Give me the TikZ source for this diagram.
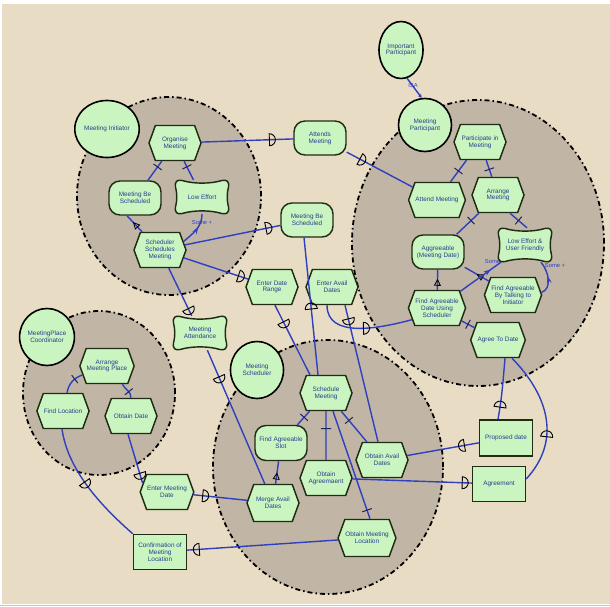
\documentclass[tikz,border=0pt]{standalone}
\usepackage{fontspec}
\setmainfont{Liberation Sans}
\usetikzlibrary{shapes.geometric,shapes.symbols,arrows.meta,decorations.markings}

\definecolor{bgbeige}{HTML}{E8DCC4}
\definecolor{bndgrey}{HTML}{C1B5A5}
\definecolor{nodegreen}{HTML}{CAF5C0}
\definecolor{edgec}{HTML}{1F2B12}
\definecolor{txtblue}{HTML}{23408E}
\definecolor{linkblue}{HTML}{2F3FC0}
\definecolor{tickc}{HTML}{1B2560}

\newcommand\diafont{\fontsize{6.4}{6.9}\selectfont}
\newcommand\lblfont{\fontsize{5.8}{6}\selectfont}

% softgoal: pillow outline, then a text node of the same size on top
\newcommand\softgoal[3]{%
  \draw[elem, shift={(#2)}]
    (-20,-16.5) .. controls (-8,-13) and (8,-13) .. (20,-16.5)
    .. controls (25,-17.8) and (27.5,-15) .. (26.5,-10)
    .. controls (24.8,-4) and (24.8,4) .. (26.5,10)
    .. controls (27.5,15) and (25,17.8) .. (20,16.5)
    .. controls (8,13) and (-8,13) .. (-20,16.5)
    .. controls (-25,17.8) and (-27.5,15) .. (-26.5,10)
    .. controls (-24.8,4) and (-24.8,-4) .. (-26.5,-10)
    .. controls (-27.5,-15) and (-25,-17.8) .. (-20,-16.5) -- cycle;
  \node[sgtext] (#1) at (#2) {#3};}

\tikzset{
  every node/.style={font=\diafont, text=txtblue, align=center, inner sep=0.5pt},
  elem/.style={draw=edgec, line width=1.45pt, fill=nodegreen},
  task/.style={elem, signal, signal to=east and west, signal pointer angle=140,
    minimum width=52pt, minimum height=35pt},
  goal/.style={elem, rectangle, rounded corners=11pt, minimum width=52pt, minimum height=34pt},
  resource/.style={elem, rectangle, minimum width=53pt, minimum height=35pt},
  actor/.style={ellipse, draw=black, line width=1.6pt, fill=nodegreen,
    minimum width=53pt, minimum height=57pt, inner sep=0pt},
  sgtext/.style={rectangle, minimum width=53pt, minimum height=34pt},
  lbl/.style={font=\lblfont, text=linkblue, inner sep=0pt},
  boundary/.style={draw=black, fill=bndgrey, line width=1.8pt,
    dash pattern=on 5pt off 3pt on 1.5pt off 3pt},
  link/.style={draw=linkblue, line width=1.4pt},
  dep/.style={postaction={decorate, decoration={markings, mark=at position #1 with
    {\draw[black, line width=0.9pt, fill=none] (0pt,-6pt) arc[start angle=-90, end angle=90, radius=6pt] -- cycle;}}}},
  depr/.style={postaction={decorate, decoration={markings, mark=at position #1 with
    {\draw[black, line width=0.9pt, fill=none] (0pt,-6pt) arc[start angle=-90, end angle=-270, radius=6pt] -- cycle;}}}},
  dec/.style={postaction={decorate, decoration={markings, mark=at position #1 with
    {\draw[tickc, line width=1pt] (0pt,-5pt) -- (0pt,5pt);}}}},
  meansend/.style={postaction={decorate, decoration={markings, mark=at position #1 with
    {\arrow{Triangle[open, length=7pt, width=7pt, color=black, line width=0.8pt]}}}}},
  contrib/.style={postaction={decorate, decoration={markings, mark=at position #1 with
    {\arrow{Stealth[length=7pt, width=5pt, color=linkblue]}}}}},
}

\begin{document}
\begin{tikzpicture}[x=1pt, y=-1pt]
\useasboundingbox (0,0) rectangle (610,607);
\fill[white] (0,0) rectangle (610,607);
\fill[bgbeige] (2,4) rectangle (610,604);
\draw[gray!45, line width=1pt] (0,605.5) -- (610,605.5);

% actor boundaries
\draw[boundary] (169,196) ellipse [x radius=92pt, y radius=99pt];
\draw[boundary] (478,243) ellipse [x radius=126pt, y radius=143pt];
\draw[boundary] (99,393) ellipse [x radius=76pt, y radius=82pt];
\draw[boundary] (328,467) ellipse [x radius=115pt, y radius=127pt];

% actors
\node[actor] (mi) at (107,129) {Meeting Initiator};
\node[actor, minimum width=44pt] (ip) at (401,50) {Important\\Participant};
\node[actor, minimum height=53pt] (mp) at (425,125) {Meeting\\Participant};
\node[actor] (mpc) at (47,337) {MeetingPlace\\Coordinator};
\node[actor] (ms) at (257,370) {Meeting\\Scheduler};

% Meeting Initiator
\node[task] (om) at (175,143) {Organise\\Meeting};
\node[goal] (mbs1) at (135,198) {Meeting Be\\Scheduled};
\softgoal{le}{202,197}{Low Effort}
\node[task] (ssm) at (160,250) {Scheduler\\Schedules\\Meeting};

% dependums between actors
\node[goal] (atm) at (320,138) {Attends\\Meeting};
\node[goal] (mbs2) at (307,220) {Meeting Be\\Scheduled};
\node[task] (edr) at (272,287) {Enter Date\\Range};
\node[task] (ead) at (332,287) {Enter Avail\\Dates};
\softgoal{mat}{200,333}{Meeting\\Attendance}
\node[task] (emd) at (167,492) {Enter Meeting\\Date};
\node[resource] (cml) at (160,552) {Confirmation of\\Meeting\\Location};
\node[resource, minimum height=36pt] (pd) at (506,438) {Proposed date};
\node[resource] (agr) at (499,484) {Agreement};

% Meeting Participant
\node[task] (pim) at (480,142) {Participate in\\Meeting};
\node[task] (am) at (437,200) {Attend Meeting};
\node[task] (arm) at (498,195) {Arrange\\Meeting};
\node[goal] (agm) at (438,252) {Aggreeable\\(Meeting Date)};
\node[lbl] (sp2) at (495,262) {Some +};
\softgoal{leuf}{525,245}{Low Effort \&\\User Friendly}
\node[task] (fadus) at (437,308) {Find Agreeable\\Date Using\\Scheduler};
\node[task] (fabti) at (513,295) {Find Agreeable\\By Talking to\\Initiator};
\node[task] (atd) at (498,340) {Agree To Date};

% MeetingPlace Coordinator
\node[task] (amp) at (107,366) {Arrange\\Meeting Place};
\node[task] (fl) at (63,411) {Find Location};
\node[task] (od) at (131,416) {Obtain Date};

% Meeting Scheduler
\node[task] (sm) at (326,393) {Schedule\\Meeting};
\node[goal, minimum height=35pt] (fas) at (281,443) {Find Agreeable\\Slot};
\node[task] (oa) at (326,478) {Obtain\\Agreemaent};
\node[task] (oad) at (382,460) {Obtain Avail\\Dates};
\node[task, minimum height=37pt] (mad) at (273,503) {Merge Avail\\Dates};
\node[task, minimum height=37pt] (oml) at (367,538) {Obtain Meeting\\Location};

% links inside Meeting Initiator
\draw[link, dec=0.7] (mbs1) -- (om);
\draw[link, dec=0.7] (le) -- (om);
\draw[link, meansend=0.6] ([xshift=-18pt]ssm.north) -- ([xshift=-8pt]mbs1.south);
\draw[link, contrib=0.6] (ssm.20) to[out=40, in=-90] (le.south);

% dependencies
\draw[link, dep=0.74] (om) -- (atm);
\draw[link, dep=0.2] (atm) -- (am);
\draw[link, dep=0.85] (ssm) -- (mbs2);
\draw[link, dep=0.85] (ssm) -- (edr);
\draw[link, dep=0.85] (ssm) -- (mat);
\draw[link, dep=0.2] (mat) -- (mad);
\draw[link, depr=0.52] ([xshift=-3pt]mbs2.south) -- ([xshift=-8pt]sm.north);
\draw[link, dep=0.24] ([xshift=3pt]edr.south) -- ([xshift=-16pt]sm.north);
\draw[link, dep=0.1] ([xshift=13pt]ead.south) -- ([xshift=-4pt]oad.north);
\draw[link, dep=0.5] ([xshift=-5pt]ead.south) to[out=-90, in=195] (fadus.205);
\draw[link, depr=0.8] ([xshift=7pt]atd.south) to[out=-95, in=80] ([xshift=-8pt]pd.north);
\draw[link, depr=0.65] ([xshift=14pt]atd.south) .. controls (548,395) and (562,440) .. ([yshift=5pt]agr.east);
\draw[link, depr=0.8] (oad) -- (pd);
\draw[link, dep=0.92] (oa) -- (agr);
\draw[link, dep=0.92] (oml) -- (cml);
\draw[link, dep=0.8] ([xshift=-3pt]od.south) -- (emd.160);
\draw[link, dep=0.17] (emd) -- (mad);
\draw[link, dep=0.45] ([xshift=-1pt]fl.south) .. controls (68,470) and (100,505) .. (cml.north west);

% links inside Meeting Participant
\draw[link, dec=0.5] (pim) -- (am);
\draw[link, dec=0.55] (pim) -- (arm);
\draw[link, dec=0.35] (arm) -- (agm);
\draw[link, dec=0.5] ([xshift=12pt]arm.south) -- ([xshift=2pt]leuf.north);
\draw[link, meansend=0.55] (fadus) -- (agm);
\draw[link, meansend=0.5] (fabti) -- (agm);
\draw[link, contrib=0.75] (fadus) -- (leuf);
\draw[link, contrib=0.55] (fabti.5) to[out=20, in=-50] ([xshift=16pt]leuf.south);
\draw[link, dec=0.5] (fadus) -- (atd);

% links inside Meeting Scheduler
\draw[link, dec=0.45] (sm) -- (fas);
\draw[link, dec=0.36] (sm) -- (oa);
\draw[link, dec=0.3] (sm) -- (oad);
\draw[link, dec=0.92] ([xshift=7pt]sm.south) -- ([xshift=3pt]oml.north);
\draw[link, meansend=0.5] (mad) -- (fas);

% links inside MeetingPlace Coordinator
\draw[link, dec=0.35] (amp.200) to[out=200, in=80] ([xshift=4pt]fl.north);
\draw[link, dec=0.6] (amp.-50) to[out=-60, in=90] (od.north);

% ISA
\draw[link, -{Stealth[length=4pt, width=4pt]}] (ip.-78) -- (mp.97);

% link labels
\node[lbl] (sp1) at (202,223) {Some +};
\node[lbl] (sp3) at (555,266) {Some +};
\node[lbl] (isa) at (413,86) {ISA};
\end{tikzpicture}
\end{document}
